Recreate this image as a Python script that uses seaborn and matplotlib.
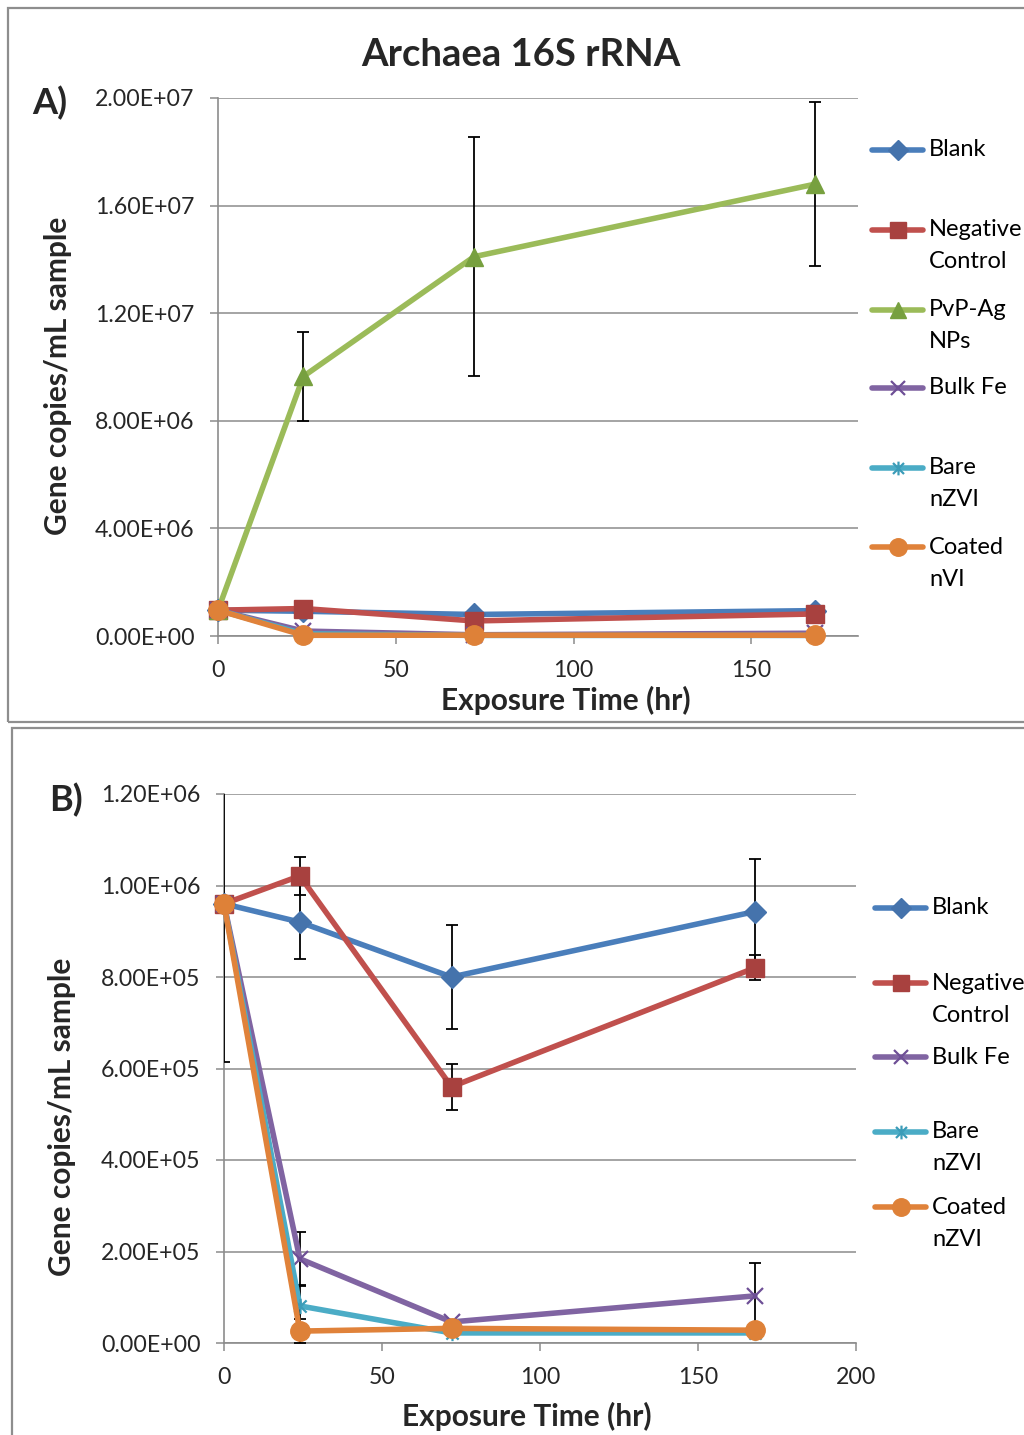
import matplotlib
matplotlib.use("Agg")
import matplotlib.pyplot as plt
import seaborn as sns
import pandas as pd
from matplotlib.path import Path
from matplotlib.lines import Line2D
from matplotlib.patches import Rectangle

# ---- data -------------------------------------------------------------
time_hr = [0, 24, 72, 168]

blank = [9.6e5, 9.2e5, 8.0e5, 9.43e5]
blank_err = [0, 8.1e4, 1.14e5, 1.15e5]

neg_control = [9.6e5, 1.021e6, 5.6e5, 8.2e5]
neg_control_err = [0, 4.1e4, 5.0e4, 2.7e4]

pvp_ag = [9.6e5, 9.65e6, 1.41e7, 1.68e7]
pvp_ag_err = [0, 1.65e6, 4.45e6, 3.05e6]

bulk_fe = [9.6e5, 1.84e5, 4.6e4, 1.03e5]
bulk_fe_err = [0, 5.8e4, 0, 7.2e4]

bare_nzvi = [9.6e5, 8.1e4, 2.2e4, 2.2e4]
bare_nzvi_err = [0, 4.4e4, 0, 0]

coated_nzvi = [9.6e5, 2.6e4, 3.2e4, 2.8e4]
coated_nzvi_err = [3.46e5, 2.6e4, 0, 0]

yticks_a = [0, 4e6, 8e6, 1.2e7, 1.6e7, 2e7]
yticks_b = [0, 2e5, 4e5, 6e5, 8e5, 1.0e6, 1.2e6]
xticks_a = [0, 50, 100, 150]
xticks_b = [0, 50, 100, 150, 200]

# ---- styles -----------------------------------------------------------
asterisk = Path(
    [(0, -1), (0, 1), (-0.8, -0.8), (0.8, 0.8), (-0.8, 0.8), (0.8, -0.8)],
    [Path.MOVETO, Path.LINETO] * 3,
)

STYLE = {
    "blank":  dict(color="#4A7EBB", mfc="#4573AC", mec="#4573AC", marker="D", ms=11, mew=1),
    "neg":    dict(color="#C0504D", mfc="#A8413F", mec="#A8413F", marker="s", ms=12.5, mew=1),
    "pvp":    dict(color="#9BBB59", mfc="#77A03F", mec="#77A03F", marker="^", ms=13, mew=1),
    "bulk":   dict(color="#8064A2", mfc="none", mec="#6E4F96", marker="x", ms=11, mew=1.6),
    "bare":   dict(color="#4BACC6", mfc="none", mec="#3B9CB8", marker=asterisk, ms=11, mew=1.6),
    "coated": dict(color="#E0823A", mfc="#DE8138", mec="#DE8138", marker="o", ms=14, mew=1),
}

GRID = "#8C8C8C"
LW = 4.0
TICK_FS = 16.7
LEG_FS = 17
LABEL_FS = 21.5

sns.set_theme(style="white")
plt.rcParams["font.family"] = ["Lato", "DejaVu Sans"]

W, H = 1024, 1435
fig = plt.figure(figsize=(W / 100, H / 100), dpi=100)


def fx(px):
    return px / W


def fy(py):
    return 1 - py / H


# panel frames
for (x0, y0, x1, y1) in [(8, 8, 1030, 722), (12, 728, 1030, 1440)]:
    fig.add_artist(Rectangle((fx(x0), fy(y1)), fx(x1 - x0), (y1 - y0) / H,
                             transform=fig.transFigure, fill=False,
                             edgecolor="#8E8E8E", linewidth=1.6, zorder=0))


def draw_panel(ax, series, ylim, yticks, xlim, xticks):
    for key, name, vals, errs in series:
        st = STYLE[key]
        df = pd.DataFrame({"time": time_hr, "value": vals})
        sns.lineplot(data=df, x="time", y="value", ax=ax, color=st["color"],
                     linewidth=LW, marker=st["marker"], markersize=st["ms"],
                     markerfacecolor=st["mfc"], markeredgecolor=st["mec"],
                     markeredgewidth=st["mew"], errorbar=None, zorder=3,
                     clip_on=False)
        if errs is not None and any(e > 0 for e in errs):
            t = [tt for tt, e in zip(time_hr, errs) if e > 0]
            v = [vv for vv, e in zip(vals, errs) if e > 0]
            e = [ee for ee in errs if ee > 0]
            ax.errorbar(t, v, yerr=e, fmt="none", ecolor="black",
                        elinewidth=1.3, capsize=4.5, capthick=1.3, zorder=2.7)
    ax.set_xlim(*xlim)
    ax.set_ylim(*ylim)
    ax.set_xticks(xticks)
    ax.set_yticks(yticks)
    ax.set_yticklabels([f"{v:.2E}" for v in yticks])
    ax.set_xticklabels([str(v) for v in xticks])
    ax.grid(axis="y", color=GRID, linewidth=1.1)
    ax.grid(axis="x", visible=False)
    for s in ["top", "right"]:
        ax.spines[s].set_visible(False)
    for s in ["left", "bottom"]:
        ax.spines[s].set_color(GRID)
        ax.spines[s].set_linewidth(1.2)
    ax.tick_params(axis="y", direction="out", length=6, width=1.1,
                   color=GRID, pad=11, labelsize=TICK_FS, left=True)
    ax.tick_params(axis="x", direction="out", length=6, width=1.1,
                   color=GRID, pad=11, labelsize=TICK_FS, bottom=True)
    ax.set_xlabel("Exposure Time (hr)", fontsize=LABEL_FS, fontweight="bold")
    ax.set_ylabel("Gene copies/mL sample", fontsize=LABEL_FS, fontweight="bold")
    ax.set_facecolor("white")


def draw_legend(entries, x_line0, x_line1, x_text, rows):
    for (key, lines), y in zip(entries, rows):
        st = STYLE[key]
        yy = fy(y)
        fig.add_artist(Line2D([fx(x_line0), fx(x_line1)], [yy, yy],
                              transform=fig.transFigure, color=st["color"],
                              linewidth=LW, solid_capstyle="round"))
        fig.add_artist(Line2D([fx((x_line0 + x_line1) / 2)], [yy],
                              transform=fig.transFigure, linestyle="none",
                              marker=st["marker"], markersize=st["ms"] * 0.9,
                              markerfacecolor=st["mfc"], markeredgecolor=st["mec"],
                              markeredgewidth=st["mew"]))
        for i, txt in enumerate(lines):
            fig.text(fx(x_text), fy(y + 32 * i), txt, fontsize=LEG_FS,
                     ha="left", va="center", color="black")


# ---- panel A ----------------------------------------------------------
ax_a = fig.add_axes([fx(218), fy(636), fx(858 - 218), (636 - 98) / H])
draw_panel(ax_a,
           [("blank", "Blank", blank, None),
            ("neg", "Negative Control", neg_control, None),
            ("pvp", "PvP-Ag NPs", pvp_ag, pvp_ag_err),
            ("bulk", "Bulk Fe", bulk_fe, None),
            ("bare", "Bare nZVI", bare_nzvi, None),
            ("coated", "Coated nVI", coated_nzvi, None)],
           (0, 2e7), yticks_a, (0, 180), xticks_a)
ax_a.xaxis.set_label_coords((566 - 218) / 640, (636 - 700) / 538)
ax_a.yaxis.set_label_coords((58 - 218) / 640, (636 - 376) / 538)
ax_a.xaxis.label.set_va("center")
ax_a.yaxis.label.set_va("center")

draw_legend([("blank", ["Blank"]),
             ("neg", ["Negative", "Control"]),
             ("pvp", ["PvP-Ag", "NPs"]),
             ("bulk", ["Bulk Fe"]),
             ("bare", ["Bare", "nZVI"]),
             ("coated", ["Coated", "nVI"])],
            872, 923, 929, [150, 230, 310, 388, 468, 547])

fig.text(fx(521), fy(55), "Archaea 16S rRNA", fontsize=27.5, fontweight="bold",
         ha="center", va="center")
fig.text(fx(50), fy(103), "A)", fontsize=26, fontweight="bold",
         ha="center", va="center")

# ---- panel B ----------------------------------------------------------
ax_b = fig.add_axes([fx(224), fy(1343), fx(856 - 224), (1343 - 794) / H])
draw_panel(ax_b,
           [("blank", "Blank", blank, blank_err),
            ("neg", "Negative Control", neg_control, neg_control_err),
            ("bulk", "Bulk Fe", bulk_fe, bulk_fe_err),
            ("bare", "Bare nZVI", bare_nzvi, bare_nzvi_err),
            ("coated", "Coated nZVI", coated_nzvi, coated_nzvi_err)],
           (0, 1.2e6), yticks_b, (0, 200), xticks_b)
ax_b.xaxis.set_label_coords((527 - 224) / 632, (1343 - 1416) / 549)
ax_b.yaxis.set_label_coords((62 - 224) / 632, (1343 - 1117) / 549)
ax_b.xaxis.label.set_va("center")
ax_b.yaxis.label.set_va("center")

draw_legend([("blank", ["Blank"]),
             ("neg", ["Negative", "Control"]),
             ("bulk", ["Bulk Fe"]),
             ("bare", ["Bare", "nZVI"]),
             ("coated", ["Coated", "nZVI"])],
            875, 926, 932, [908, 983, 1057, 1132, 1207])

fig.text(fx(66), fy(800), "B)", fontsize=26, fontweight="bold",
         ha="center", va="center")

fig.savefig("out.png", dpi=100, facecolor="white")
